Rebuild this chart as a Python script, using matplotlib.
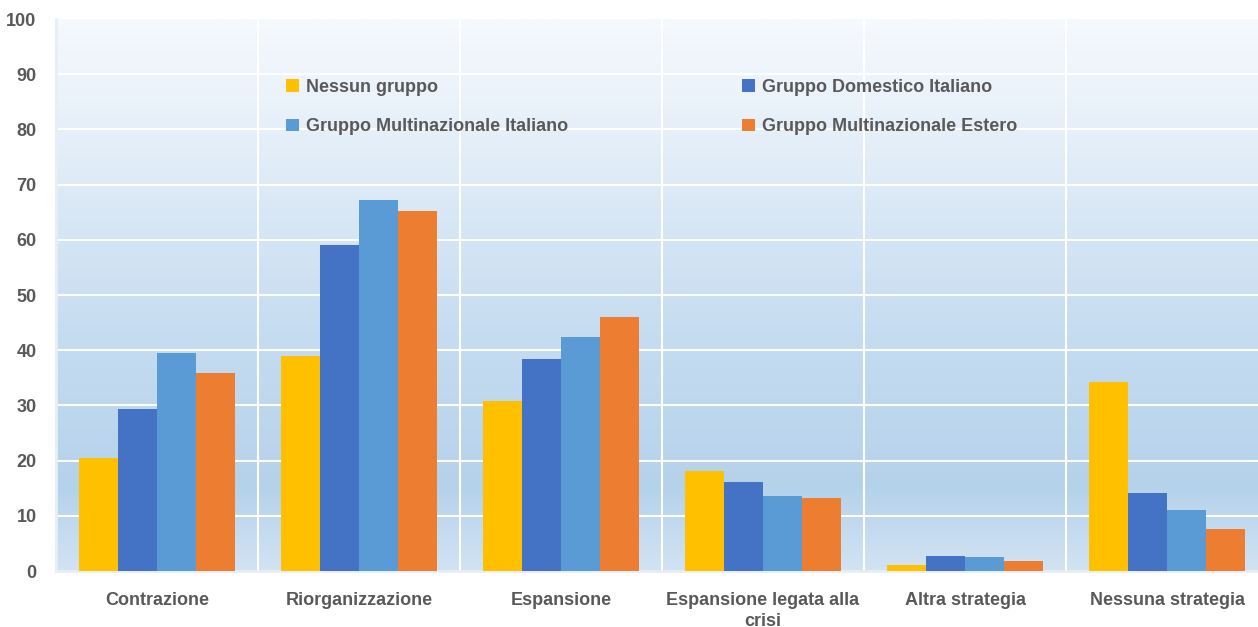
import numpy as np
import matplotlib
matplotlib.use("Agg")
import matplotlib.pyplot as plt
from matplotlib.colors import LinearSegmentedColormap

plt.rcParams['font.family'] = ['Liberation Sans', 'DejaVu Sans']

categories = ['Contrazione', 'Riorganizzazione', 'Espansione',
              'Espansione legata alla\ncrisi', 'Altra strategia', 'Nessuna strategia']
series = ['Nessun gruppo', 'Gruppo Domestico Italiano',
          'Gruppo Multinazionale Italiano', 'Gruppo Multinazionale Estero']
nessun = [20.5, 38.9, 30.8, 18.1, 1.0, 34.3]
domestico = [29.3, 59.0, 38.4, 16.2, 2.8, 14.1]
multi_ita = [39.5, 67.2, 42.4, 13.5, 2.5, 11.0]
multi_est = [35.9, 65.3, 46.0, 13.2, 1.9, 7.6]
colors = ['#FFC000', '#4472C4', '#5B9BD5', '#ED7D31']
yticks = list(range(0, 101, 10))

W, H = 1258, 627
fig = plt.figure(figsize=(W / 100, H / 100), dpi=100)
ax = fig.add_axes([56 / W, (H - 571) / H, 1212 / W, 552 / H])

# background gradient
grad = LinearSegmentedColormap.from_list('bg', [
    (0.0, '#D2E3F3'), (0.15, '#B5D2EB'), (0.45, '#C7DDF1'),
    (0.75, '#E2EDF8'), (1.0, '#F6F9FD')])
g = np.linspace(0, 1, 256).reshape(-1, 1)
ax.imshow(g, cmap=grad, aspect='auto', extent=[-0.5, 5.5, 0, 100],
          origin='lower', zorder=0)

x = np.arange(len(categories))
w = 0.193
data = [nessun, domestico, multi_ita, multi_est]
handles = []
for i, (vals, c, name) in enumerate(zip(data, colors, series)):
    b = ax.bar(x + (i - 1.5) * w, vals, w, color=c, label=name, zorder=3)
    handles.append(b)

ax.set_xlim(-0.5, 5.5)
ax.set_ylim(0, 100)
ax.set_yticks(yticks)
for yv in yticks[1:-1]:
    ax.axhline(yv, color='white', lw=1.5, zorder=1)
for xv in np.arange(0.5, 5.5, 1):
    ax.axvline(xv, color='white', lw=1.5, zorder=1)

for s in ['top', 'right']:
    ax.spines[s].set_visible(False)
ax.spines['left'].set_color('#E6EEF6')
ax.spines['left'].set_linewidth(2)
ax.spines['bottom'].set_color('#E6EEF6')
ax.spines['bottom'].set_linewidth(2)

ax.set_xticks(x)
ax.set_xticklabels(categories, fontsize=13, fontweight='bold', color='#595959',
                   linespacing=1.35)
ax.tick_params(axis='x', length=0, pad=15)
ax.tick_params(axis='y', length=0, pad=14, labelsize=13, labelcolor='#595959')
for t in ax.get_yticklabels():
    t.set_fontweight('bold')

leg_kw = dict(loc='upper left', frameon=False,
              prop={'size': 13, 'weight': 'bold'}, handlelength=0.7,
              handleheight=0.7, handletextpad=0.4, labelspacing=1.25,
              borderaxespad=0)
leg1 = ax.legend(handles[::2], series[::2],
                 bbox_to_anchor=(223 / 1212, 0.905), **leg_kw)
for t in leg1.get_texts():
    t.set_color('#595959')
ax.add_artist(leg1)
leg2 = ax.legend(handles[1::2], series[1::2],
                 bbox_to_anchor=(679 / 1212, 0.905), **leg_kw)
for t in leg2.get_texts():
    t.set_color('#595959')

fig.savefig('out.png', dpi=100)
